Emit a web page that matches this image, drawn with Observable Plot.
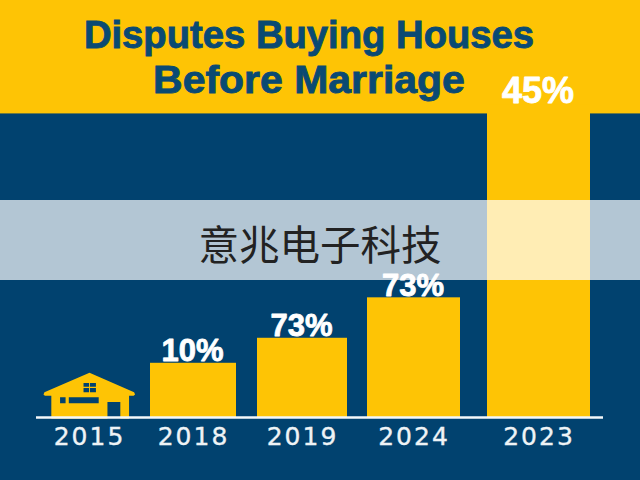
<!DOCTYPE html>
<html>
<head>
<meta charset="utf-8">
<script src="https://cdn.jsdelivr.net/npm/d3@7"></script>
<script src="https://cdn.jsdelivr.net/npm/@observablehq/plot@0.6"></script>
<style>
html,body{margin:0;padding:0;background:#01426f;}
#wrap{position:relative;width:640px;height:480px;overflow:hidden;}
#wrap svg{position:absolute;left:0;top:0;display:block;}
.title{position:absolute;left:-11px;width:640px;text-align:center;color:#0a4a73;font:bold 39px "Liberation Sans",sans-serif;line-height:39px;-webkit-text-stroke:.9px #0a4a73;white-space:nowrap;}
#mark{position:absolute;left:0;top:200px;width:640px;height:80px;background:rgba(255,255,255,.7);color:#222;text-align:center;font:40.5px/86px "Noto Sans CJK SC",sans-serif;}
g[aria-label="x-axis tick label"] text{letter-spacing:2px;stroke:#eef3f6;stroke-width:.35px;}
</style>
</head>
<body>
<div id="wrap">
<div class="title" style="top:15px;transform:scaleX(.98);">Disputes Buying Houses</div>
<div class="title" style="top:60px;transform:scaleX(1.05);">Before Marriage</div>
<div id="mark">意兆电子科技</div>
</div>
<script>
const years = ["2015", "2018", "2019", "2024", "2023"];
const heights = [0, 13, 19, 28.7, 75];
const labels = ["", "10%", "73%", "73%", "45%"];
const yellow = "#fec405";
const navy = "#01426f";

const rows = years.map((year, i) => ({year, height: heights[i], label: labels[i], slot: i}));
const bars = rows.filter(d => d.height > 0);

// A piecewise x scale: slot i of the chart spans 2i..2i+1, so the uneven bars come from the scale.
const xDomain = [-2, -1, 0, 1, 2, 3, 4, 5, 6, 7, 8, 9, 10, 11];
const xRange = [0, 36, 43, 135, 150, 236, 257, 347, 367, 460, 487, 590, 603, 640];

// The house icon that stands in for the 2015 bar, in units of the dot radius.
const house = {
  draw(c, size) {
    const r = Math.sqrt(size / Math.PI);
    const P = (pts) => pts.forEach(([x, y], i) => i ? c.lineTo(x * r, y * r) : c.moveTo(x * r, y * r));
    P([[0, -.49], [.97, -.07], [.99, -.02], [.96, .01], [.86, .01], [.86, .5], [-.83, .5], [-.83, .01], [-.97, .01], [-1, -.02], [-.98, -.07]]);
    c.closePath();
    // holes, wound the other way
    const hole = (x0, y0, x1, y1) => { P([[x0, y0], [x0, y1], [x1, y1], [x1, y0]]); c.closePath(); };
    hole(.39, .145, .67, .5);
    hole(-.64, .04, -.52, .17);
    hole(-.45, .04, .2, .17);
    hole(-.13, -.27, -.01, -.19);
    hole(.01, -.27, .14, -.19);
    hole(-.13, -.16, -.01, -.07);
    hole(.01, -.16, .14, -.07);
  }
};

const chart = Plot.plot({
  width: 640,
  height: 480,
  marginTop: 0,
  marginLeft: 0,
  marginRight: 0,
  marginBottom: 63,
  style: {background: navy},
  x: {type: "linear", domain: xDomain, range: xRange},
  y: {domain: [0, 100], axis: null},
  marks: [
    Plot.rectY([{y1: 72.8, y2: 100}], {y1: "y1", y2: "y2", fill: yellow}),
    Plot.rectY(bars, {x1: d => d.slot * 2, x2: d => d.slot * 2 + 1, y1: 0, y2: "height", fill: yellow}),
    Plot.dot(rows.filter(d => d.height === 0), {x: d => d.slot * 2 + .5, y: 5.3, r: 46, symbol: house, fill: yellow, stroke: "none"}),
    Plot.ruleY([0], {x1: -1, x2: 10, stroke: "#f4f8fa", strokeWidth: 2.5}),
    Plot.axisX({
      anchor: "bottom",
      ticks: years.map((_, i) => i * 2 + .5),
      tickFormat: v => years[(v - .5) / 2],
      tickSize: 0,
      tickPadding: 10,
      label: null,
      fontSize: 25,
      fontFamily: "DejaVu Sans",
      fill: "#eef3f6"
    }),
    Plot.text(bars, {
      x: d => d.slot * 2 + .5,
      y: "height",
      text: "label",
      lineAnchor: "bottom",
      dx: -1,
      dy: -2,
      fontSize: d => d.slot === 4 ? 36 : 31,
      fontWeight: "bold",
      fontFamily: "Liberation Sans, sans-serif",
      fill: "white",
      stroke: "white",
      strokeWidth: .8
    })
  ]
});
document.getElementById("wrap").prepend(chart);
</script>
</body>
</html>
